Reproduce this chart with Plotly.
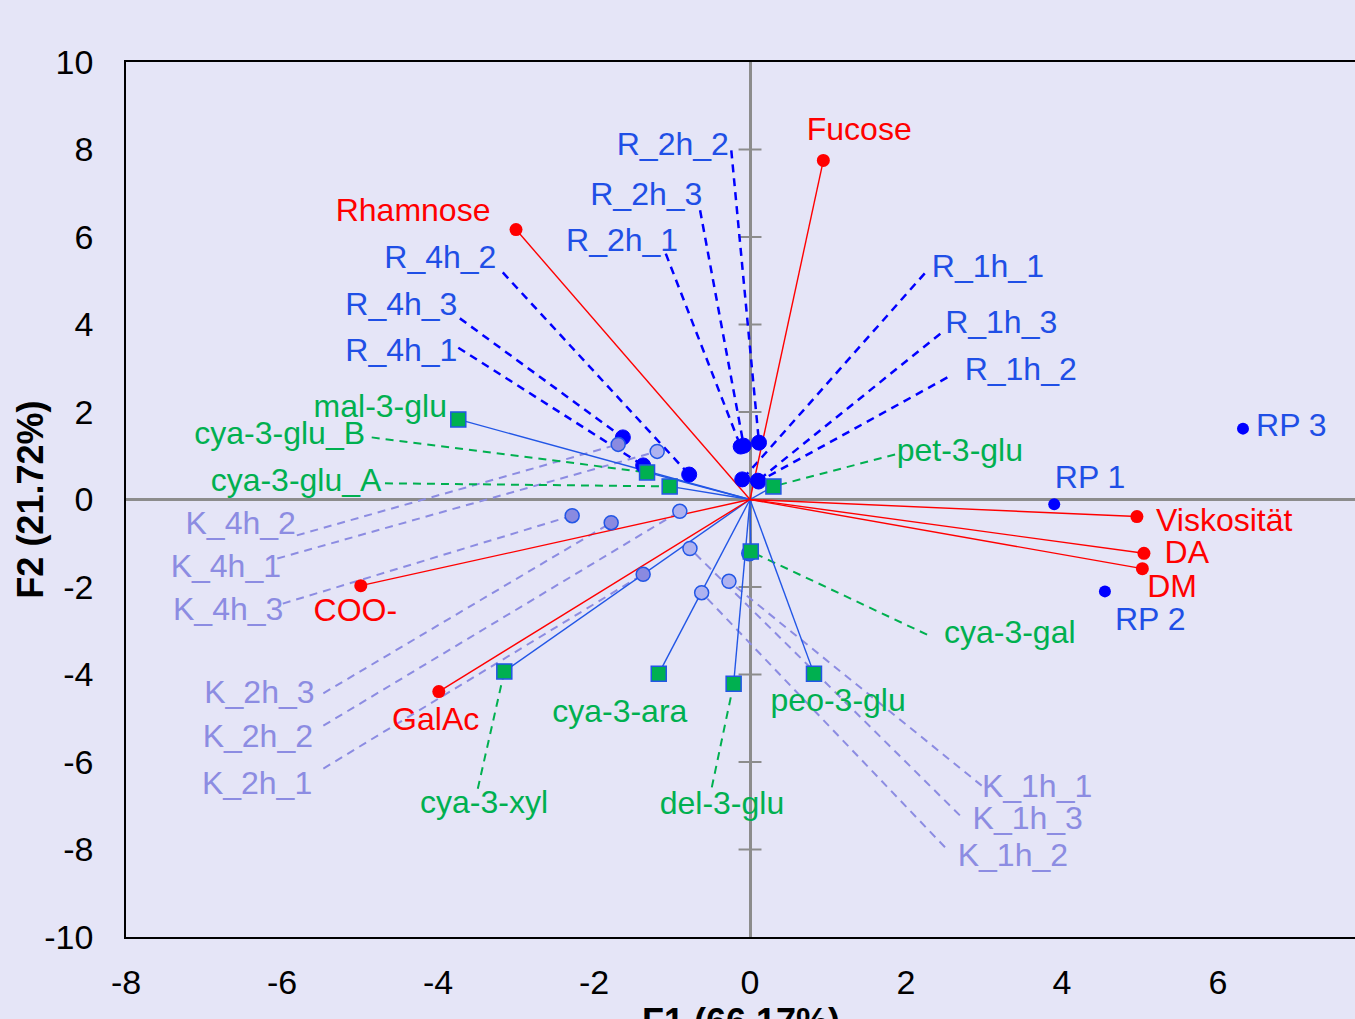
import plotly.graph_objects as go

# ---------------- data ----------------
# red variables (vectors from origin)
var_names = ["Fucose", "Rhamnose", "COO-", "GalAc", "Viskosität", "DA", "DM"]
var_x = [0.94, -3.00, -4.99, -3.99, 4.96, 5.05, 5.03]
var_y = [7.75, 6.17, -1.97, -4.39, -0.39, -1.23, -1.58]

# anthocyanins (green squares, blue vectors)
ant_names = ["mal-3-glu", "cya-3-glu_B", "cya-3-glu_A", "pet-3-glu", "cya-3-gal",
             "cya-3-ara", "cya-3-xyl", "del-3-glu", "peo-3-glu"]
ant_x = [-3.74, -1.32, -1.03, 0.30, 0.01, -1.17, -3.15, -0.21, 0.82]
ant_y = [1.83, 0.62, 0.30, 0.30, -1.19, -3.98, -3.93, -4.21, -3.98]

# R observations
r_names = ["R_2h_2", "R_2h_3", "R_2h_1", "R_1h_1", "R_1h_3", "R_1h_2",
           "R_4h_2", "R_4h_3", "R_4h_1"]
r_x = [0.115, -0.08, -0.12, -0.10, 0.10, 0.11, -0.78, -1.63, -1.37]
r_y = [1.30, 1.23, 1.21, 0.46, 0.43, 0.41, 0.57, 1.42, 0.78]

# K observations
k_names = ["K_4h_2", "K_4h_1", "K_4h_3", "K_2h_3", "K_2h_2", "K_2h_1",
           "K_1h_1", "K_1h_3", "K_1h_2"]
k_x = [-1.69, -1.19, -2.28, -1.78, -0.90, -1.37, -0.27, -0.77, -0.62]
k_y = [1.26, 1.10, -0.37, -0.53, -0.27, -1.71, -1.87, -1.12, -2.13]

# RP observations
rp_names = ["RP 1", "RP 2", "RP 3"]
rp_x = [3.90, 4.55, 6.32]
rp_y = [-0.11, -2.10, 1.62]

# unlabelled point under cya-3-gal
extra_x = [-0.01]
extra_y = [-1.23]

y_tick_vals = [-10, -8, -6, -4, -2, 0, 2, 4, 6, 8, 10]
x_tick_vals = [-8, -6, -4, -2, 0, 2, 4, 6]
axis_ticks = [-8, -6, -4, -2, 2, 4, 6, 8]

# ---------------- label layout (data coords) ----------------
var_lab = [(1.40, 8.40), (-4.32, 6.55), (-5.06, -2.59), (-4.03, -5.08),
           (6.08, -0.53), (5.60, -1.26), (5.41, -2.04)]
ant_lab = [(-4.74, 2.07), (-6.03, 1.46), (-5.82, 0.38), (2.69, 1.07), (3.33, -3.09),
           (-1.67, -4.90), (-3.41, -6.98), (-0.36, -7.00), (1.13, -4.65)]
ant_lead = [None, (-4.85, 1.42), (-4.68, 0.37), (1.86, 1.03), (2.27, -3.09),
            None, (-3.49, -6.61), (-0.49, -6.58), None]
r_lab = [(-0.99, 8.06), (-1.33, 6.92), (-1.64, 5.87), (3.05, 5.27), (3.22, 3.99),
         (3.47, 2.92), (-3.97, 5.48), (-4.47, 4.40), (-4.47, 3.35)]
r_lead = [(-0.24, 7.98), (-0.64, 6.61), (-1.08, 5.62), (2.24, 5.17), (2.44, 3.79),
          (2.53, 2.79), (-3.17, 5.19), (-3.72, 4.14), (-3.74, 3.47)]
k_lab = [(-6.53, -0.60), (-6.72, -1.58), (-6.69, -2.57), (-6.29, -4.46), (-6.31, -5.47),
         (-6.32, -6.54), (3.68, -6.61), (3.56, -7.34), (3.37, -8.19)]
k_lead = [(-5.81, -0.82), (-6.06, -1.35), (-5.99, -2.38), (-5.47, -4.43), (-5.47, -5.17),
          (-5.47, -6.15), (2.97, -6.54), (2.69, -7.22), (2.50, -7.95)]
rp_lab = [(4.36, 0.45), (5.13, -2.80), (6.94, 1.64)]

# ---------------- styles ----------------
BG = "#E5E5F7"
RED = "#FF0000"
GREEN = "#00B050"
BLUE_TXT = "#1F4FE6"
BLUE_LINE = "#2256E6"
BLUE_DASH = "#0000FF"
K_COL = "#8C8CE2"
FONT = "Liberation Sans, Arial, sans-serif"
LAB_SIZE = 32

XMIN, XMAX = -8, 7.756


def segs(x0s, y0s, x1s, y1s):
    xs, ys = [], []
    for a, b, c, d in zip(x0s, y0s, x1s, y1s):
        xs += [a, c, None]
        ys += [b, d, None]
    return xs, ys


def leaders(pts_x, pts_y, starts):
    xs, ys = [], []
    for px, py, s in zip(pts_x, pts_y, starts):
        if s is None:
            continue
        xs += [s[0], px, None]
        ys += [s[1], py, None]
    return xs, ys


fig = go.Figure()

# axis ticks on vertical zero line
tx, ty = segs([-0.147] * len(axis_ticks), axis_ticks, [0.147] * len(axis_ticks), axis_ticks)
fig.add_trace(go.Scatter(x=tx, y=ty, mode="lines", line=dict(color="#8C8C8C", width=2),
                         hoverinfo="skip", showlegend=False))

# leader lines
lx, ly = leaders(k_x, k_y, k_lead)
fig.add_trace(go.Scatter(x=lx, y=ly, mode="lines",
                         line=dict(color=K_COL, width=2, dash="8px,6px"),
                         hoverinfo="skip", showlegend=False))
lx, ly = leaders(r_x, r_y, r_lead)
fig.add_trace(go.Scatter(x=lx, y=ly, mode="lines",
                         line=dict(color=BLUE_DASH, width=2.5, dash="8px,6px"),
                         hoverinfo="skip", showlegend=False))
lx, ly = leaders(ant_x, ant_y, ant_lead)
fig.add_trace(go.Scatter(x=lx, y=ly, mode="lines",
                         line=dict(color=GREEN, width=2, dash="8px,6px"),
                         hoverinfo="skip", showlegend=False))

# vectors
vx, vy = segs([0] * len(ant_x), [0] * len(ant_x), ant_x, ant_y)
fig.add_trace(go.Scatter(x=vx, y=vy, mode="lines", line=dict(color=BLUE_LINE, width=1.4),
                         hoverinfo="skip", showlegend=False))
vx, vy = segs([0] * len(var_x), [0] * len(var_x), var_x, var_y)
fig.add_trace(go.Scatter(x=vx, y=vy, mode="lines", line=dict(color=RED, width=1.4),
                         hoverinfo="skip", showlegend=False))

# points
fig.add_trace(go.Scatter(x=extra_x, y=extra_y, mode="markers",
                         marker=dict(size=15, color="#4A6AEE", line=dict(color=BLUE_LINE, width=1.5)),
                         showlegend=False))
fig.add_trace(go.Scatter(x=r_x, y=r_y, mode="markers", text=r_names,
                         marker=dict(size=15, color="#0000FF", line=dict(color="#0000FF", width=1)),
                         showlegend=False))
k_fill = ["#8A8AE0", "#AEB2F0", "#8A8AE0", "#8A8AE0", "#AEB2F0", "#8A8AE0",
          "#AEB2F0", "#AEB2F0", "#AEB2F0"]
fig.add_trace(go.Scatter(x=k_x, y=k_y, mode="markers", text=k_names,
                         marker=dict(size=14, color=k_fill, line=dict(color=BLUE_LINE, width=1.5)),
                         showlegend=False))
fig.add_trace(go.Scatter(x=ant_x, y=ant_y, mode="markers", text=ant_names,
                         marker=dict(size=15, symbol="square", color=GREEN,
                                     line=dict(color=BLUE_LINE, width=1.5)),
                         showlegend=False))
fig.add_trace(go.Scatter(x=var_x, y=var_y, mode="markers", text=var_names,
                         marker=dict(size=13, color=RED), showlegend=False))
fig.add_trace(go.Scatter(x=rp_x, y=rp_y, mode="markers", text=rp_names,
                         marker=dict(size=12, color="#0000FF"), showlegend=False))

# labels
def add_labels(names, pos, color):
    fig.add_trace(go.Scatter(x=[p[0] for p in pos], y=[p[1] for p in pos], mode="text",
                             text=names, textposition="middle center",
                             textfont=dict(family=FONT, size=LAB_SIZE, color=color),
                             hoverinfo="skip", showlegend=False))

add_labels(var_names, var_lab, RED)
add_labels(ant_names, ant_lab, GREEN)
add_labels(r_names, r_lab, BLUE_TXT)
add_labels(k_names, k_lab, K_COL)
add_labels(rp_names, rp_lab, BLUE_TXT)

fig.update_layout(
    width=1355, height=1019,
    margin=dict(l=126, r=0, t=62, b=82),
    paper_bgcolor=BG, plot_bgcolor=BG,
    font=dict(family=FONT, color="black"),
    xaxis=dict(range=[XMIN, XMAX], tickvals=x_tick_vals,
               ticktext=[str(v) for v in x_tick_vals], showgrid=False,
               zeroline=True, zerolinecolor="#8C8C8C", zerolinewidth=2.5,
               showline=True, linecolor="black", linewidth=1.5, mirror=True,
               ticks="", ticklabelstandoff=14, tickfont=dict(size=34)),
    yaxis=dict(range=[-10, 10], tickvals=y_tick_vals,
               ticktext=[str(v) for v in y_tick_vals], showgrid=False,
               zeroline=True, zerolinecolor="#8C8C8C", zerolinewidth=2.5,
               showline=True, linecolor="black", linewidth=1.5, mirror=False,
               ticks="", ticklabelstandoff=24, tickfont=dict(size=34)),
    annotations=[
        dict(text="<b>F2 (21.72%)</b>", xref="paper", yref="paper", x=-0.078, y=0.5,
             textangle=-90, showarrow=False, font=dict(size=36, family=FONT),
             xanchor="center", yanchor="middle"),
        dict(text="<b>F1 (66.17%)</b>", xref="x", yref="paper", x=-0.12, y=-0.071,
             showarrow=False, font=dict(size=36, family=FONT),
             xanchor="center", yanchor="top"),
    ],
)

fig.write_html(
    "out.html",
    config=dict(displayModeBar=False),
    post_script="document.body.style.margin='0';document.body.style.overflow='hidden';"
                "document.body.style.background='" + BG + "';",
)
